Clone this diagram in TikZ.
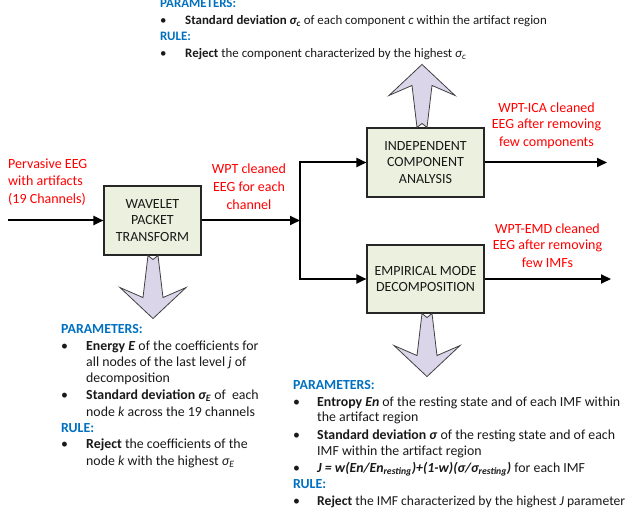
\documentclass[tikz,border=0pt]{standalone}
\usepackage{fontspec}
\setmainfont{Carlito}
\usetikzlibrary{arrows.meta}
\definecolor{boxfill}{RGB}{235,241,222}
\definecolor{arrfill}{RGB}{218,213,232}
\definecolor{hblue}{RGB}{0,112,192}
\definecolor{lred}{RGB}{255,0,0}
\tikzset{
  pics/blkarrow/.style={code={
    \draw[blockarrow] (-5,0) -- (0,4) -- (5,0) -- (10,42) -- (33,32) -- (0,63) -- (-33,32) -- (-10,42) -- cycle;}}
}
\begin{document}
\begin{tikzpicture}[x=1pt,y=-1pt,
  procbox/.style={draw=black!85, line width=1.1pt, fill=boxfill, minimum height=69pt, inner sep=0pt, align=center, font=\fontsize{14}{16.5}\selectfont, text=black!90},
  conn/.style={line width=2pt, -{Triangle[length=10pt,width=9pt]}},
  lbl/.style={text=lred, font=\fontsize{14}{17}\selectfont, anchor=base, inner sep=0pt},
  lblw/.style={lbl, anchor=base west},
  txt/.style={font=\fontsize{13.85}{17}\selectfont, anchor=base west, inner sep=0pt, text=black!90},
  head/.style={txt, text=hblue, font=\fontsize{13.85}{17}\selectfont\bfseries},
  ttxt/.style={txt, font=\fontsize{12.9}{16}\selectfont},
  thead/.style={head, font=\fontsize{12.9}{16}\selectfont\bfseries},
  blockarrow/.style={draw=black!75, line width=0.8pt, fill=arrfill, line join=miter}
]
\useasboundingbox (0,0) rectangle (632,513);

% boxes
\node[procbox, minimum width=97pt] (wpt) at (152.5,220.5) {WAVELET\\PACKET\\TRANSFORM};
\node[procbox, minimum width=117pt] (ica) at (425.5,162.5) {INDEPENDENT\\COMPONENT\\ANALYSIS};
\node[procbox, minimum width=117pt, minimum height=68pt] (emd) at (425.5,279) {EMPIRICAL MODE\\DECOMPOSITION};

% block arrows
\pic at ([xshift=0.5pt]wpt.south) {blkarrow};
\pic[yscale=-1] at ([xshift=-3.5pt]ica.north) {blkarrow};
\pic at ([xshift=1.5pt]emd.south) {blkarrow};

% connectors
\coordinate (inp) at (8,220.5);
\coordinate (split) at (300,220.5);
\coordinate (icaout) at (607,162.5);
\coordinate (emdout) at (611,279);
\draw[conn] (inp) -- (wpt.west);
\draw[conn] (wpt.east) -- (split);
\draw[conn] (split) |- (ica.west);
\draw[conn] (split) |- (emd.west);
\draw[conn] (ica.east) -- (icaout);
\draw[conn] (emd.east) -- (emdout);

% red labels
\node[lblw] (in1) at (8,169) {Pervasive EEG};
\node[lblw] (in2) at (8,186) {with artifacts};
\node[lblw] (in3) at (8,204) {(19 Channels)};
\node[lbl] (w1) at (249,174) {WPT cleaned};
\node[lbl] (w2) at (249,192) {EEG for each};
\node[lbl] (w3) at (249,210) {channel};
\node[lbl] (i1) at (546.5,113) {WPT-ICA cleaned};
\node[lbl] (i2) at (546.5,129) {EEG after removing};
\node[lbl] (i3) at (546.5,147) {few components};
\node[lbl] (e1) at (547.5,234) {WPT-EMD cleaned};
\node[lbl] (e2) at (547.5,250) {EEG after removing};
\node[lbl] (e3) at (547.5,268) {few IMFs};

% top block
\node[thead] (th1) at (160,8) {PARAMETERS:};
\node[ttxt] (tb1) at (160,25) {•};
\node[ttxt] (tt1) at (185,25) {\textbf{Standard deviation \textit{σ\textsubscript{c}}} of each component \textit{c} within the artifact region};
\node[thead] (th2) at (160,41) {RULE:};
\node[ttxt] (tb2) at (160,57.5) {•};
\node[ttxt] (tt2) at (185,57.5) {\textbf{Reject} the component characterized by the highest \textit{σ\textsubscript{c}}};

% bottom-left block
\node[head] (lh1) at (61,333) {PARAMETERS:};
\node[txt] (lb1) at (61,350) {•};
\node[txt] (lt1) at (86,350) {\textbf{Energy \textit{E}} of the coefficients for};
\node[txt] (lt2) at (86,366) {all nodes of the last level \textit{j} of};
\node[txt] (lt3) at (86,382) {decomposition};
\node[txt] (lb2) at (61,399) {•};
\node[txt] (lt4) at (86,399) {\textbf{Standard deviation \textit{σ\textsubscript{E}}} of\ \ each};
\node[txt] (lt5) at (86,416) {node \textit{k} across the 19 channels};
\node[head] (lh2) at (61,432) {RULE:};
\node[txt] (lb3) at (61,448) {•};
\node[txt] (lt6) at (86,448) {\textbf{Reject} the coefficients of the};
\node[txt] (lt7) at (86,465) {node \textit{k} with the highest \textit{σ\textsubscript{E}}};

% bottom-right block
\node[head] (rh1) at (293,389) {PARAMETERS:};
\node[txt] (rb1) at (293,406) {•};
\node[txt] (rt1) at (317,406) {\textbf{Entropy \textit{En}} of the resting state and of each IMF within};
\node[txt] (rt2) at (317,421) {the artifact region};
\node[txt] (rb2) at (293,439) {•};
\node[txt] (rt3) at (317,439) {\textbf{Standard deviation \textit{σ}} of the resting state and of each};
\node[txt] (rt4) at (317,455) {IMF within the artifact region};
\node[txt] (rb3) at (293,472) {•};
\node[txt] (rt5) at (317,472) {\textbf{\textit{J = w(En/En\textsubscript{resting})+(1-w)(σ/σ\textsubscript{resting})}} for each IMF};
\node[head] (rh2) at (293,488) {RULE:};
\node[txt] (rb4) at (293,505) {•};
\node[txt, font=\fontsize{13.6}{17}\selectfont] (rt6) at (317,505) {\textbf{Reject} the IMF characterized by the highest \textit{J} parameter};
\end{tikzpicture}
\end{document}
